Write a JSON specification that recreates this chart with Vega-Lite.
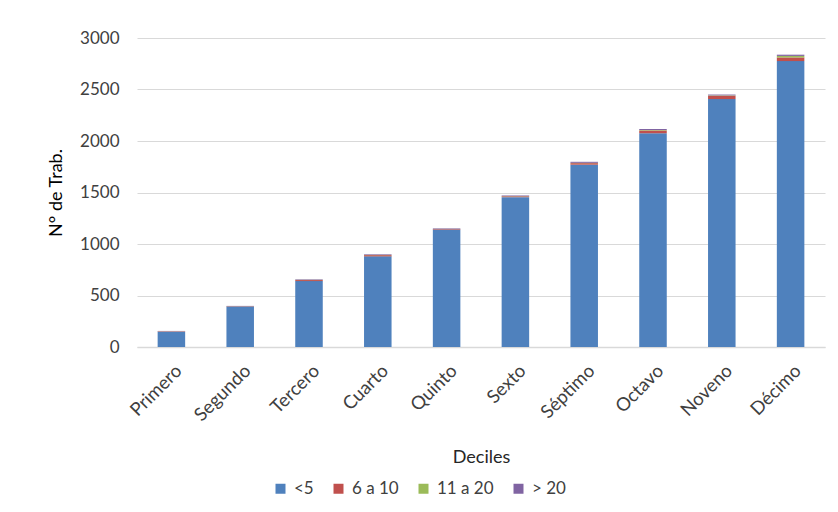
{
  "$schema": "https://vega.github.io/schema/vega-lite/v6.json",
  "autosize": "none",
  "width": 688,
  "height": 309,
  "padding": {"left": 137, "top": 38, "right": 13, "bottom": 165},
  "background": "white",
  "config": {
    "font": "Lato",
    "view": {"stroke": null},
    "axis": {"labelColor": "#404040", "titleColor": "#000000", "labelFont": "Lato", "titleFont": "Lato"}
  },
  "data": {
    "values": [
      {"decil": "Primero", "grupo": "<5", "o": 1, "n": 148},
      {"decil": "Primero", "grupo": "6 a 10", "o": 2, "n": 4},
      {"decil": "Primero", "grupo": "11 a 20", "o": 3, "n": 1},
      {"decil": "Primero", "grupo": "> 20", "o": 4, "n": 3},
      {"decil": "Segundo", "grupo": "<5", "o": 1, "n": 392},
      {"decil": "Segundo", "grupo": "6 a 10", "o": 2, "n": 3},
      {"decil": "Segundo", "grupo": "11 a 20", "o": 3, "n": 1},
      {"decil": "Segundo", "grupo": "> 20", "o": 4, "n": 3},
      {"decil": "Tercero", "grupo": "<5", "o": 1, "n": 640},
      {"decil": "Tercero", "grupo": "6 a 10", "o": 2, "n": 10},
      {"decil": "Tercero", "grupo": "11 a 20", "o": 3, "n": 2},
      {"decil": "Tercero", "grupo": "> 20", "o": 4, "n": 5},
      {"decil": "Cuarto", "grupo": "<5", "o": 1, "n": 880},
      {"decil": "Cuarto", "grupo": "6 a 10", "o": 2, "n": 12},
      {"decil": "Cuarto", "grupo": "11 a 20", "o": 3, "n": 2},
      {"decil": "Cuarto", "grupo": "> 20", "o": 4, "n": 6},
      {"decil": "Quinto", "grupo": "<5", "o": 1, "n": 1140},
      {"decil": "Quinto", "grupo": "6 a 10", "o": 2, "n": 6},
      {"decil": "Quinto", "grupo": "11 a 20", "o": 3, "n": 1},
      {"decil": "Quinto", "grupo": "> 20", "o": 4, "n": 5},
      {"decil": "Sexto", "grupo": "<5", "o": 1, "n": 1455},
      {"decil": "Sexto", "grupo": "6 a 10", "o": 2, "n": 8},
      {"decil": "Sexto", "grupo": "11 a 20", "o": 3, "n": 2},
      {"decil": "Sexto", "grupo": "> 20", "o": 4, "n": 6},
      {"decil": "Séptimo", "grupo": "<5", "o": 1, "n": 1770},
      {"decil": "Séptimo", "grupo": "6 a 10", "o": 2, "n": 15},
      {"decil": "Séptimo", "grupo": "11 a 20", "o": 3, "n": 3},
      {"decil": "Séptimo", "grupo": "> 20", "o": 4, "n": 10},
      {"decil": "Octavo", "grupo": "<5", "o": 1, "n": 2075},
      {"decil": "Octavo", "grupo": "6 a 10", "o": 2, "n": 28},
      {"decil": "Octavo", "grupo": "11 a 20", "o": 3, "n": 4},
      {"decil": "Octavo", "grupo": "> 20", "o": 4, "n": 10},
      {"decil": "Noveno", "grupo": "<5", "o": 1, "n": 2407},
      {"decil": "Noveno", "grupo": "6 a 10", "o": 2, "n": 32},
      {"decil": "Noveno", "grupo": "11 a 20", "o": 3, "n": 4},
      {"decil": "Noveno", "grupo": "> 20", "o": 4, "n": 8},
      {"decil": "Décimo", "grupo": "<5", "o": 1, "n": 2776},
      {"decil": "Décimo", "grupo": "6 a 10", "o": 2, "n": 35},
      {"decil": "Décimo", "grupo": "11 a 20", "o": 3, "n": 15},
      {"decil": "Décimo", "grupo": "> 20", "o": 4, "n": 12}
    ]
  },
  "mark": {"type": "bar"},
  "encoding": {
    "x": {
      "field": "decil",
      "type": "nominal",
      "sort": ["Primero", "Segundo", "Tercero", "Cuarto", "Quinto", "Sexto", "Séptimo", "Octavo", "Noveno", "Décimo"],
      "scale": {"paddingInner": 0.6, "paddingOuter": 0.3},
      "axis": {
        "title": "Deciles",
        "titleFontSize": 18,
        "titleFontWeight": "normal",
        "titleColor": "#262626",
        "titlePadding": 24,
        "labelAngle": -45,
        "labelFontSize": 18.5,
        "labelPadding": 14,
        "labelOffset": 1,
        "ticks": false,
        "domainColor": "#d9d9d9",
        "domainWidth": 1.5
      }
    },
    "y": {
      "field": "n",
      "type": "quantitative",
      "stack": "zero",
      "scale": {"domain": [0, 3000], "nice": false},
      "axis": {
        "title": "N° de Trab.",
        "titleFontSize": 18,
        "titleFontWeight": "normal",
        "titleColor": "#000000",
        "titlePadding": 14,
        "format": "d",
        "values": [0, 500, 1000, 1500, 2000, 2500, 3000],
        "labelFontSize": 17,
        "labelPadding": 18,
        "ticks": false,
        "domain": false,
        "gridColor": "#d9d9d9",
        "gridWidth": 1.2
      }
    },
    "color": {
      "field": "grupo",
      "type": "nominal",
      "sort": ["<5", "6 a 10", "11 a 20", "> 20"],
      "scale": {"domain": ["<5", "6 a 10", "11 a 20", "> 20"], "range": ["#4F81BD", "#C0504D", "#9BBB59", "#8064A2"]},
      "legend": {
        "title": null,
        "orient": "none",
        "direction": "horizontal",
        "legendX": 135,
        "legendY": 442,
        "symbolType": "square",
        "symbolSize": 100,
        "symbolStrokeWidth": 0,
        "labelFontSize": 17,
        "labelColor": "#404040",
        "columnPadding": 16,
        "labelOffset": 5
      }
    },
    "order": {"field": "o", "type": "quantitative"}
  }
}
